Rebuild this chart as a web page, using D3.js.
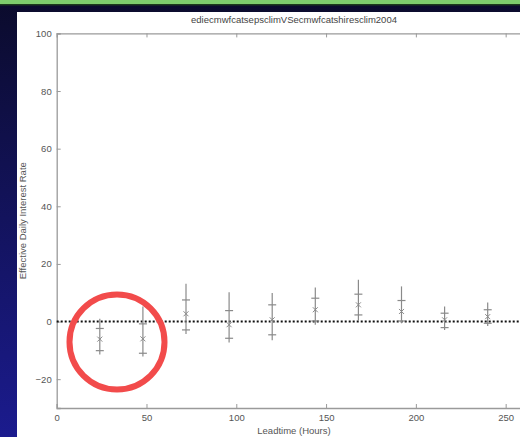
<!DOCTYPE html>
<html>
<head>
<meta charset="utf-8">
<script src="https://cdn.jsdelivr.net/npm/d3@7"></script>
<style>
    body { margin: 0; padding: 0; overflow: hidden; }
    svg { display: block; }
</style>
</head>
<body>
<script>
// values
var leadtime = [24, 48, 72, 96, 120, 144, 168, 192, 216, 240];
var meanRate = [-6.1, -6.0, 2.7, -1.1, 0.6, 4.1, 5.8, 3.5, 0.6, 1.7];
var upperQ = [-2.4, -0.8, 7.5, 3.8, 5.8, 8.1, 9.5, 7.3, 2.9, 4.1];
var lowerQ = [-10.1, -11.0, -2.9, -5.8, -4.6, 0.2, 2.3, 0.2, -2.1, -0.6];
var maxRate = [1.0, 5.2, 13.1, 10.2, 9.9, 11.8, 14.5, 12.2, 5.2, 6.6];
var minRate = [-11.4, -12.1, -4.3, -7.3, -6.5, -1.1, 0.3, -0.6, -2.9, -1.5];

var xTicks = [0, 50, 100, 150, 200, 250];
var yTicks = [-20, 0, 20, 40, 60, 80, 100];

var titleText = "ediecmwfcatsepsclimVSecmwfcatshiresclim2004";
var xLabel = "Leadtime (Hours)";
var yLabel = "Effective Daily Interest Rate";

var W = 520, H = 437;

var svg = d3.select("body").append("svg")
    .attr("width", W)
    .attr("height", H);

// slide background
var defs = svg.append("defs");
var grad = defs.append("linearGradient")
    .attr("id", "bg")
    .attr("x1", 0).attr("y1", 0).attr("x2", 0).attr("y2", 1);
grad.append("stop").attr("offset", "0%").attr("stop-color", "#0b0b2c");
grad.append("stop").attr("offset", "100%").attr("stop-color", "#1b1b8e");

svg.append("rect").attr("width", W).attr("height", H).attr("fill", "url(#bg)");
svg.append("rect").attr("width", W).attr("height", 4).attr("fill", "#7ecd6c");
svg.append("rect").attr("y", 4).attr("width", W).attr("height", 1.5).attr("fill", "#1c3a1c");

// white figure panel
svg.append("rect")
    .attr("x", 17).attr("y", 12)
    .attr("width", W - 17).attr("height", H - 12)
    .attr("fill", "#ffffff");

var x = d3.scaleLinear().domain([0, 264]).range([56.7, 530.8]);
var y = d3.scaleLinear().domain([-30, 100]).range([408, 33.4]);

var axisColor = "#9a9a9a";
var textColor = "#555";
var font = "Liberation Sans, Arial, sans-serif";

// box: bottom + left + top
var bottomAxis = d3.axisBottom(x).tickValues(xTicks).tickSize(-4).tickPadding(6).tickFormat(d3.format("d"));
var topAxis = d3.axisTop(x).tickValues(xTicks.slice(1)).tickSize(-4).tickFormat("");
var leftAxis = d3.axisLeft(y).tickValues(yTicks).tickSize(-4).tickPadding(5).tickFormat(d3.format("d"));

function styleAxis(g) {
    g.select(".domain").attr("stroke", axisColor).attr("stroke-width", 1.3);
    g.selectAll(".tick line").attr("stroke", axisColor).attr("stroke-width", 1);
    g.selectAll(".tick text").attr("fill", textColor).style("font-family", font).style("font-size", "9.5px");
}

svg.append("g")
    .attr("transform", "translate(0," + y(-30) + ")")
    .call(bottomAxis)
    .call(styleAxis);

svg.append("g")
    .attr("transform", "translate(0," + y(100) + ")")
    .call(topAxis)
    .call(styleAxis);

var leftG = svg.append("g")
    .attr("transform", "translate(" + x(0) + ",0)")
    .call(leftAxis)
    .call(styleAxis);
leftG.select(".tick text").filter(function (d) { return d === -20; });

// zero reference line (dotted)
svg.append("line")
    .attr("x1", x(0)).attr("x2", W)
    .attr("y1", y(0)).attr("y2", y(0))
    .attr("stroke", "#111")
    .attr("stroke-width", 2)
    .attr("stroke-dasharray", "2,2");

// whiskers
var bars = svg.append("g").selectAll("g")
    .data(leadtime)
    .enter().append("g");

var markColor = "#8a8a8a";

bars.append("line")
    .attr("x1", function (d) { return x(d); })
    .attr("x2", function (d) { return x(d); })
    .attr("y1", function (d, i) { return y(maxRate[i]); })
    .attr("y2", function (d, i) { return y(minRate[i]); })
    .attr("stroke", markColor)
    .attr("stroke-width", 1.2);

bars.append("line")
    .attr("x1", function (d) { return x(d) - 4; })
    .attr("x2", function (d) { return x(d) + 4; })
    .attr("y1", function (d, i) { return y(upperQ[i]); })
    .attr("y2", function (d, i) { return y(upperQ[i]); })
    .attr("stroke", markColor)
    .attr("stroke-width", 1.2);

bars.append("line")
    .attr("x1", function (d) { return x(d) - 4; })
    .attr("x2", function (d) { return x(d) + 4; })
    .attr("y1", function (d, i) { return y(lowerQ[i]); })
    .attr("y2", function (d, i) { return y(lowerQ[i]); })
    .attr("stroke", markColor)
    .attr("stroke-width", 1.2);

// x markers
bars.append("path")
    .attr("d", function (d, i) {
        var cx = x(d), cy = y(meanRate[i]), s = 2.5;
        return "M" + (cx - s) + "," + (cy - s) + "L" + (cx + s) + "," + (cy + s) +
            "M" + (cx - s) + "," + (cy + s) + "L" + (cx + s) + "," + (cy - s);
    })
    .attr("stroke", markColor)
    .attr("stroke-width", 1)
    .attr("fill", "none");

// title and labels
svg.append("text")
    .attr("x", 294).attr("y", 23)
    .attr("text-anchor", "middle")
    .attr("fill", "#444")
    .style("font-family", font)
    .style("font-size", "9.5px")
    .text(titleText);

svg.append("text")
    .attr("x", 294).attr("y", 434)
    .attr("text-anchor", "middle")
    .attr("fill", textColor)
    .style("font-family", font)
    .style("font-size", "9.5px")
    .text(xLabel);

svg.append("text")
    .attr("transform", "translate(26," + (y(35)) + ") rotate(-90)")
    .attr("text-anchor", "middle")
    .attr("fill", textColor)
    .style("font-family", font)
    .style("font-size", "9.5px")
    .text(yLabel);

// red highlight circle
svg.append("circle")
    .attr("cx", 117)
    .attr("cy", 342)
    .attr("r", 47.5)
    .attr("fill", "none")
    .attr("stroke", "#f24b4b")
    .attr("stroke-width", 6);
</script>
</body>
</html>
